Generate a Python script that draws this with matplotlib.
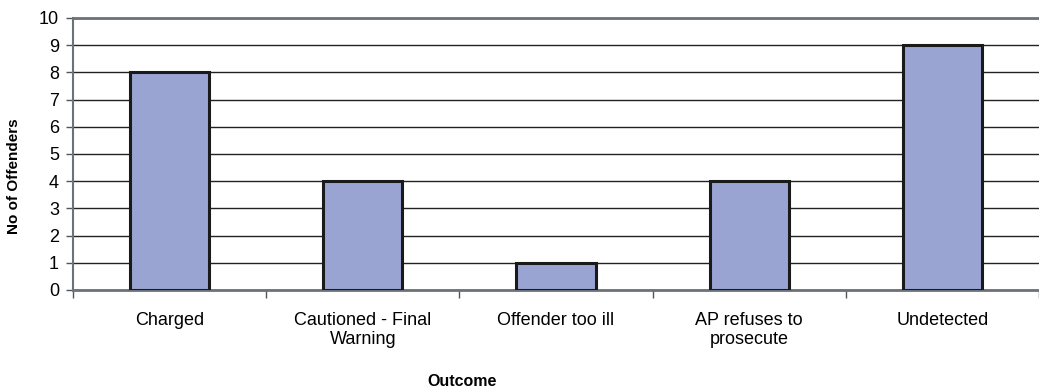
import matplotlib
matplotlib.use("Agg")
import matplotlib.pyplot as plt
import numpy as np

categories = ["Charged", "Cautioned - Final\nWarning", "Offender too ill",
              "AP refuses to\nprosecute", "Undetected"]
offenders = [8, 4, 1, 4, 9]
y_ticks = list(range(0, 11))

plt.rcParams["font.family"] = ["Liberation Sans", "DejaVu Sans"]

fig = plt.figure(figsize=(10.39, 3.90), dpi=100)
ax = fig.add_axes([73 / 1039, 1 - 290 / 390, (1039 - 73) / 1039, (290 - 18) / 390])

x = np.arange(len(categories))
ax.bar(x, offenders, width=0.41, color="#99a4d2", edgecolor="#1a1a1a",
       linewidth=2.2, zorder=3)

ax.set_xlim(-0.5, len(categories) - 0.5)
ax.set_ylim(0, 10)
ax.set_yticks(y_ticks)
ax.yaxis.grid(True, color="#222222", linewidth=1.0, zorder=0)
ax.tick_params(axis="y", length=5, width=1, color="#555555", labelsize=13, pad=5)

# category labels sit at the centres, tick marks at the boundaries
ax.set_xticks(x)
ax.set_xticklabels(categories, fontsize=13, linespacing=1.15)
ax.tick_params(axis="x", which="major", length=0, pad=16)
ax.set_xticks(np.arange(-0.5, len(categories) - 0.4, 1.0), minor=True)
ax.tick_params(axis="x", which="minor", length=6, width=1, color="#555555")

ax.spines["right"].set_visible(False)
ax.spines["top"].set_color("#6b7278")
ax.spines["top"].set_linewidth(2.0)
ax.spines["left"].set_color("#6b7278")
ax.spines["left"].set_linewidth(1.5)
ax.spines["bottom"].set_color("#6b7278")
ax.spines["bottom"].set_linewidth(2.0)

fig.text(462 / 1039, 1 - 381 / 390, "Outcome", fontsize=11.5, fontweight="bold",
         ha="center", va="center")
fig.text(14 / 1039, 1 - 176 / 390, "No of Offenders", fontsize=11,
         fontweight="bold", ha="center", va="center", rotation=90)

fig.savefig("out.png", dpi=100)
